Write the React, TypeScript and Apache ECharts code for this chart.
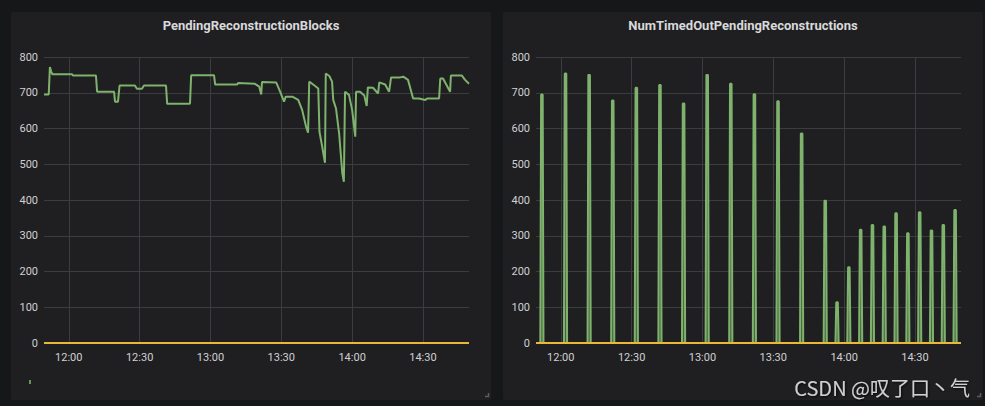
import React, { useEffect, useRef } from "react";
import * as echarts from "echarts";

// ---- data ----
const rangeStart = "11:49:30";
const rangeEnd = "14:49:30";
const xTickLabels = ["12:00", "12:30", "13:00", "13:30", "14:00", "14:30"];

const pendingTimes = [
  "11:49:30", "11:51:30", "11:52:00", "11:52:30", "11:53:00", "12:01:20", "12:01:50", "12:11:30",
  "12:12:00", "12:19:10", "12:19:35", "12:20:50", "12:21:30", "12:28:00", "12:28:50", "12:31:00",
  "12:31:50", "12:41:10", "12:41:40", "12:51:20", "12:51:50", "13:01:30", "13:02:00", "13:11:20",
  "13:11:40", "13:18:50", "13:20:40", "13:21:30", "13:21:50", "13:27:50", "13:29:30", "13:31:10",
  "13:31:50", "13:34:40", "13:37:10", "13:38:50", "13:40:30", "13:41:20", "13:41:50", "13:43:30",
  "13:45:40", "13:46:10", "13:47:20", "13:48:30", "13:48:50", "13:50:20", "13:51:30", "13:52:00",
  "13:53:10", "13:54:30", "13:55:50", "13:56:30", "13:57:00", "13:58:40", "14:00:00", "14:01:20",
  "14:01:40", "14:03:20", "14:05:10", "14:06:10", "14:06:40", "14:08:50", "14:11:00", "14:11:30",
  "14:14:00", "14:15:40", "14:16:30", "14:20:20", "14:21:40", "14:23:40", "14:25:50", "14:28:20",
  "14:31:00", "14:31:50", "14:36:50", "14:37:20", "14:38:30", "14:41:30", "14:41:50", "14:46:30",
  "14:47:50", "14:49:30",
];
const pendingValues = [
  695, 695, 772, 760, 752, 752, 748, 748,
  703, 703, 675, 675, 720, 720, 711, 711,
  720, 720, 669, 669, 749, 749, 723, 723,
  727, 725, 717, 695, 730, 729, 703, 675,
  689, 689, 680, 652, 605, 588, 731, 723,
  712, 591, 549, 504, 754, 747, 731, 680,
  656, 586, 475, 451, 703, 694, 652, 577,
  703, 703, 692, 663, 715, 714, 698, 729,
  723, 703, 743, 743, 745, 736, 684, 684,
  680, 684, 684, 740, 740, 703, 748, 748,
  736, 725,
];

const spikeTimes = [
  "11:52:00", "12:02:00", "12:12:00", "12:22:00", "12:32:00", "12:42:00", "12:52:00", "13:02:00",
  "13:12:00", "13:22:00", "13:32:00", "13:42:00", "13:52:00", "13:57:00", "14:02:00", "14:07:00",
  "14:12:00", "14:17:00", "14:22:00", "14:27:00", "14:32:00", "14:37:00", "14:42:00", "14:47:00",
];
const spikeValues = [
  695, 754, 750, 678, 714, 722, 670, 750,
  725, 696, 676, 586, 398, 114, 212, 317,
  330, 326, 363, 307, 366, 315, 330, 372,
];

const yTicks = [0, 100, 200, 300, 400, 500, 600, 700, 800];
const titles = ["PendingReconstructionBlocks", "NumTimedOutPendingReconstructions"];
const watermark = "CSDN @叹了口丶气";

// ---- helpers ----
const toTs = (s: string) => {
  const [h, m, sec] = s.split(":").map(Number);
  return Date.UTC(2021, 0, 1, h, m, sec || 0);
};
const pad = (n: number) => (n < 10 ? "0" + n : "" + n);

const GREEN = "#7EB26D";
const YELLOW = "#EAB839";

export default function App() {
  const ref = useRef<HTMLDivElement>(null);

  useEffect(() => {
    if (!ref.current) return;
    const chart = echarts.init(ref.current, undefined, { renderer: "svg" });
    const tMin = toTs(rangeStart);
    const tMax = toTs(rangeEnd);
    const tickTs = xTickLabels.map(toTs);

    const pendingData = pendingTimes.map((t, i) => [toTs(t), pendingValues[i]]);
    const spikeData: number[][] = [[tMin, 0]];
    spikeTimes.forEach((t, i) => {
      const c = toTs(t);
      spikeData.push([c - 40000, 0], [c - 20000, spikeValues[i]], [c + 20000, spikeValues[i]], [c + 40000, 0]);
    });
    spikeData.push([tMax, 0]);
    const zeroData = [[tMin, 0], [tMax, 0]];

    const panels = [
      { x: 11, w: 480, cx: 251 },
      { x: 503, w: 480, cx: 743 },
    ];

    const xAxis = [0, 1].map((i) => ({
      type: "value",
      gridIndex: i,
      min: tMin,
      max: tMax,
      axisLine: { show: false },
      axisTick: { show: false, customValues: tickTs },
      splitLine: { show: true, lineStyle: { color: "#3b3c3f", width: 1 } },
      axisLabel: {
        color: "#d0d1d3",
        fontSize: 11,
        margin: 9,
        customValues: tickTs,
        formatter: (v: number) => {
          const d = new Date(v);
          return pad(d.getUTCHours()) + ":" + pad(d.getUTCMinutes());
        },
      },
    }));

    const yAxis = [0, 1].map((i) => ({
      type: "value",
      gridIndex: i,
      min: yTicks[0],
      max: yTicks[yTicks.length - 1],
      interval: yTicks[1] - yTicks[0],
      axisLine: { show: false },
      axisTick: { show: false },
      splitLine: { show: true, lineStyle: { color: "#3b3c3f", width: 1 } },
      axisLabel: { color: "#d0d1d3", fontSize: 11, margin: 6 },
    }));

    const graphic: any[] = [];
    panels.forEach((p, i) => {
      graphic.push({
        type: "rect",
        z: -10,
        silent: true,
        shape: { x: p.x, y: 12, width: p.w, height: 388, r: 2 },
        style: { fill: "#1f1f21" },
      });
      graphic.push({
        type: "text",
        z: 10,
        x: p.cx,
        y: 25,
        style: {
          text: titles[i],
          fill: "#d8d9da",
          font: "bold 13px Roboto, sans-serif",
          textAlign: "center",
          textVerticalAlign: "middle",
        },
      });
      graphic.push({
        type: "polyline",
        z: 10,
        shape: { points: [[p.x + p.w - 2.5, 393], [p.x + p.w - 2.5, 396.5], [p.x + p.w - 6, 396.5]] },
        style: { stroke: "#5c5d60", lineWidth: 1.5, fill: null },
      });
    });
    graphic.push({
      type: "rect",
      z: 10,
      shape: { x: 29, y: 380, width: 2, height: 4 },
      style: { fill: GREEN, opacity: 0.8 },
    });
    graphic.push({
      type: "text",
      z: 20,
      x: 970,
      y: 387,
      style: {
        text: watermark,
        fill: "#cfcfcf",
        font: "20px 'Noto Sans CJK SC', 'Noto Sans', sans-serif",
        textAlign: "right",
        textVerticalAlign: "middle",
        textShadowColor: "rgba(0,0,0,0.8)",
        textShadowBlur: 2,
        textShadowOffsetX: 1,
        textShadowOffsetY: 1,
      },
    });

    chart.setOption({
      animation: false,
      backgroundColor: "#161719",
      textStyle: { fontFamily: "Roboto, 'Noto Sans', sans-serif" },
      grid: [
        { left: 44, top: 57, width: 425, height: 286 },
        { left: 536, top: 57, width: 425, height: 286 },
      ],
      xAxis,
      yAxis,
      graphic,
      series: [
        {
          name: "pending",
          type: "line",
          xAxisIndex: 0,
          yAxisIndex: 0,
          data: pendingData,
          showSymbol: false,
          lineStyle: { color: GREEN, width: 2 },
          itemStyle: { color: GREEN },
          z: 2,
        },
        {
          name: "pending-zero",
          type: "line",
          xAxisIndex: 0,
          yAxisIndex: 0,
          data: zeroData,
          showSymbol: false,
          lineStyle: { color: YELLOW, width: 2 },
          itemStyle: { color: YELLOW },
          z: 3,
        },
        {
          name: "timedout",
          type: "line",
          xAxisIndex: 1,
          yAxisIndex: 1,
          data: spikeData,
          showSymbol: false,
          lineStyle: { color: GREEN, width: 2 },
          itemStyle: { color: GREEN },
          areaStyle: { color: GREEN, opacity: 0.45 },
          z: 2,
        },
        {
          name: "timedout-zero",
          type: "line",
          xAxisIndex: 1,
          yAxisIndex: 1,
          data: zeroData,
          showSymbol: false,
          lineStyle: { color: YELLOW, width: 2 },
          itemStyle: { color: YELLOW },
          z: 3,
        },
      ],
    });
    return () => chart.dispose();
  }, []);

  return (
    <div
      ref={ref}
      style={{ position: "fixed", left: 0, top: 0, width: 985, height: 406 }}
    />
  );
}
